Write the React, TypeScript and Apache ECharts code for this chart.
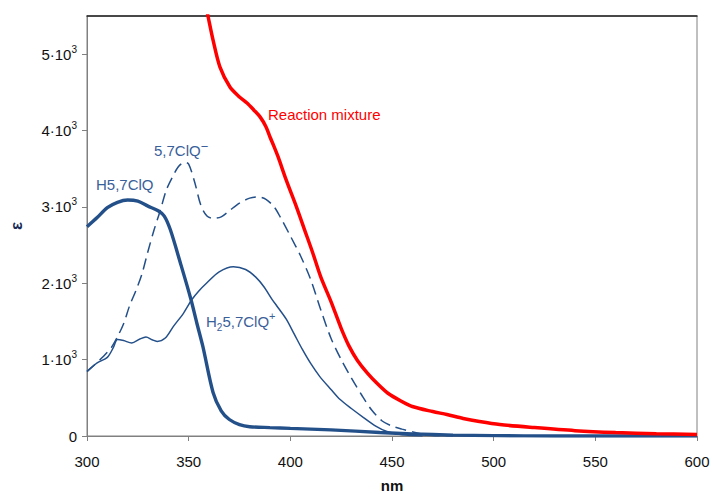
import React, { useEffect, useRef } from 'react';
import * as echarts from 'echarts';

// H5,7ClQ (thick solid)
const h5Nm = [300, 305, 310, 315, 320, 325, 330, 335, 338, 341, 346, 351, 354, 357, 362, 366, 370, 375, 380, 390, 400, 420, 444, 460, 480, 500, 530, 600];
const h5Eps = [2740, 2860, 2990, 3060, 3090, 3075, 3010, 2950, 2880, 2700, 2260, 1800, 1480, 1170, 570, 330, 216, 150, 122, 110, 100, 80, 46, 28, 12, 5, 0, 0];

// 5,7ClQ− (dashed)
const aNm = [300, 304, 308, 312, 315, 318, 321, 324, 327, 330, 333, 336, 339, 342, 345, 348, 350, 353, 356, 359, 362, 366, 370, 375, 380, 384, 388, 392, 395, 400, 405, 410, 415, 420, 425, 430, 435, 440, 445, 450, 455, 460, 465, 470, 480];
const aEps = [843, 940, 1040, 1160, 1300, 1470, 1710, 1900, 2120, 2420, 2700, 2950, 3220, 3390, 3530, 3585, 3560, 3320, 3020, 2880, 2850, 2870, 2950, 3050, 3115, 3131, 3100, 3000, 2870, 2620, 2360, 2050, 1650, 1280, 1000, 760, 540, 340, 200, 130, 90, 55, 25, 8, 0];

// H2 5,7ClQ+ (thin solid)
const cNm = [300, 305, 310, 313, 315, 318, 322, 326, 329, 332, 334.5, 338.5, 342.5, 347.5, 351.5, 355, 359, 365, 372, 378, 383, 387, 391, 394, 398, 402, 406, 410, 414.5, 420, 424.5, 430, 436, 442, 447.5, 455, 465];
const cEps = [847, 957, 1030, 1160, 1265, 1250, 1218, 1270, 1296, 1260, 1239, 1283, 1435, 1610, 1784, 1900, 2007, 2150, 2216, 2180, 2080, 1954, 1790, 1680, 1530, 1330, 1130, 950, 778, 610, 477, 360, 242, 130, 59, 15, 0];

// Reaction mixture (red)
const rNm = [356, 359.5, 362, 365.4, 370.3, 375, 378.7, 382, 385.2, 388, 390, 392, 394, 398, 403, 407, 411, 415, 420, 425, 429, 433, 438, 443, 448, 455, 460, 470, 477, 485, 493, 503, 520, 540, 560, 580, 600];
const rEps = [5950, 5500, 5183, 4830, 4570, 4440, 4360, 4270, 4176, 4050, 3915, 3790, 3654, 3350, 3000, 2700, 2400, 2080, 1760, 1410, 1170, 990, 820, 680, 560, 450, 386, 320, 281, 230, 190, 150, 110, 70, 45, 30, 20];

const xMin = 300;
const xMax = 600;
const xStep = 50;
const yMin = 0;
const yMax = 5500;
const yStep = 1000;

const labelReaction = 'Reaction mixture';
const labelAnion = '5,7ClQ';
const labelNeutral = 'H5,7ClQ';
const labelCation = '5,7ClQ';

const zip = (xs: number[], ys: number[]) => xs.map((x, i) => [x, ys[i]]);

const FONT = "'Liberation Sans', Arial, sans-serif";
const BLUE = '#24508a';
const LABEL_BLUE = '#3a609a';

export default function App() {
  const ref = useRef<HTMLDivElement>(null);
  useEffect(() => {
    const chart = echarts.init(ref.current!, null, { renderer: 'svg' });
    chart.setOption({
      animation: false,
      backgroundColor: '#ffffff',
      textStyle: { fontFamily: FONT },
      grid: {
        left: 87,
        top: 16,
        right: 15,
        bottom: 58,
        show: true,
        borderColor: '#808080',
        borderWidth: 1,
        containLabel: false,
        outerBoundsMode: 'none',
      },
      xAxis: [
        {
          type: 'value',
          min: xMin,
          max: xMax,
          interval: xStep,
          name: 'nm',
          nameLocation: 'middle',
          nameGap: 42,
          nameTextStyle: { fontFamily: FONT, fontSize: 15, lineHeight: 15, fontWeight: 'bold', color: '#111' },
          axisLine: { show: true, lineStyle: { color: '#808080', width: 1 } },
          axisTick: { show: true, length: 5, lineStyle: { color: '#808080' } },
          axisLabel: { margin: 18, fontFamily: FONT, fontSize: 15, color: '#111' },
          splitLine: { show: false },
        },
        {
          type: 'value',
          position: 'top',
          min: xMin,
          max: xMax,
          axisLine: { show: true, lineStyle: { color: '#222', width: 1.5 } },
          axisTick: { show: false },
          axisLabel: { show: false },
          splitLine: { show: false },
        },
      ],
      yAxis: {
        type: 'value',
        min: yMin,
        max: yMax,
        interval: yStep,
        name: 'ε',
        nameLocation: 'middle',
        nameGap: 62,
        nameRotate: 90,
        nameTextStyle: { fontFamily: FONT, fontSize: 17, fontWeight: 'bold', color: '#1a2a55' },
        axisLine: { show: true, lineStyle: { color: '#808080', width: 1 } },
        axisTick: { show: true, length: 5, lineStyle: { color: '#808080' } },
        axisLabel: {
          margin: 10,
          showMaxLabel: false,
          fontFamily: FONT,
          formatter: (v: number) => {
            if (v === 0) return '{b|0}';
            if (v % 1000 !== 0) return '';
            return `{b|${v / 1000}·10}{s|3}`;
          },
          rich: {
            b: { fontFamily: FONT, fontSize: 15, color: '#111', lineHeight: 20 },
            s: { fontFamily: FONT, fontSize: 10, color: '#111', verticalAlign: 'top', lineHeight: 12 },
          },
        },
        splitLine: { show: false },
      },
      series: [
        {
          name: 'Reaction mixture',
          type: 'line',
          data: zip(rNm, rEps),
          smooth: 0.3,
          showSymbol: false,
          clip: true,
          lineStyle: { color: '#ff0000', width: 3.5 },
          z: 5,
        },
        {
          name: '5,7ClQ-',
          type: 'line',
          data: zip(aNm, aEps),
          smooth: 0.3,
          showSymbol: false,
          lineStyle: { color: BLUE, width: 1.5, type: [11, 6] },
          z: 3,
        },
        {
          name: 'H2 5,7ClQ+',
          type: 'line',
          data: zip(cNm, cEps),
          smooth: 0.3,
          showSymbol: false,
          lineStyle: { color: BLUE, width: 1.5 },
          z: 3,
        },
        {
          name: 'H5,7ClQ',
          type: 'line',
          data: zip(h5Nm, h5Eps),
          smooth: 0.3,
          showSymbol: false,
          lineStyle: { color: BLUE, width: 3.4 },
          z: 4,
        },
      ],
      graphic: [
        {
          type: 'text',
          left: 268,
          top: 107,
          style: { text: labelReaction, fill: '#ff0000', font: `15px ${FONT}` },
        },
        {
          type: 'text',
          left: 154,
          top: 140,
          style: {
            text: `{a|${labelAnion}}{s|−}`,
            rich: {
              a: { fontFamily: FONT, fontSize: 15, fill: LABEL_BLUE, lineHeight: 20 },
              s: { fontFamily: FONT, fontSize: 13, fill: LABEL_BLUE, verticalAlign: 'top', lineHeight: 14 },
            },
          },
        },
        {
          type: 'text',
          left: 96,
          top: 177,
          style: { text: labelNeutral, fill: LABEL_BLUE, font: `15px ${FONT}` },
        },
        {
          type: 'text',
          left: 206,
          top: 310,
          style: {
            text: `{a|H}{d|2}{a|${labelCation}}{u|+}`,
            rich: {
              a: { fontFamily: FONT, fontSize: 15, fill: LABEL_BLUE, lineHeight: 22 },
              d: { fontFamily: FONT, fontSize: 10, fill: LABEL_BLUE, verticalAlign: 'bottom', lineHeight: 12 },
              u: { fontFamily: FONT, fontSize: 11, fill: LABEL_BLUE, verticalAlign: 'top', lineHeight: 12 },
            },
          },
        },
      ],
    });
    return () => chart.dispose();
  }, []);
  return <div ref={ref} style={{ position: 'fixed', left: 0, top: 0, width: 712, height: 494 }} />;
}
